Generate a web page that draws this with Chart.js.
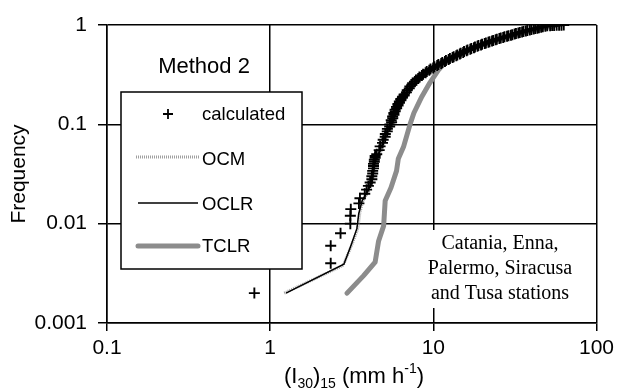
<!DOCTYPE html>
<html>
<head>
<meta charset="utf-8">
<title>Method 2 frequency</title>
<script src="https://cdn.jsdelivr.net/npm/chart.js@4.4.1/dist/chart.umd.min.js"></script>
<style>
    html, body { margin: 0; padding: 0; background: #ffffff; }
    #wrap { width: 619px; height: 390px; }
</style>
</head>
<body>
<div id="wrap"><canvas id="freqChart" width="619" height="390"></canvas></div>
<script>
// calculated values (x = (I30)15 in mm/h, y = frequency)
const calcX = [0.8, 2.35, 2.35, 2.7, 3.1, 3.1, 3.12, 3.5, 3.55, 3.8, 3.9, 4.0, 4.1, 4.2, 4.2, 4.25, 4.25, 4.3, 4.3, 4.3,
    4.35, 4.35, 4.4, 4.4,
    4.50, 4.66, 4.72, 4.88, 4.93, 5.07, 5.08, 5.22, 5.23, 5.40,
    5.42, 5.55, 5.52, 5.64, 5.63, 5.74, 5.73, 5.84, 5.83, 5.96,
    5.95, 6.08, 6.07, 6.20, 6.19, 6.33, 6.32, 6.46, 6.48, 6.62,
    6.63, 6.84, 6.92, 7.12, 7.18, 7.39, 7.47, 7.71, 7.82, 8.09,
    8.22, 8.51, 8.66, 8.97, 9.11, 9.45, 9.61, 9.98, 10.15, 10.56,
    10.74, 11.18, 11.35, 11.78, 11.95, 12.42, 12.64, 13.12, 13.33, 13.83,
    14.03, 14.54, 14.72, 15.24, 15.43, 16.0, 16.2, 16.85, 17.1, 17.75,
    18.0, 18.65, 18.9, 19.6, 19.9, 20.65, 21.0, 21.75, 22.1, 22.9,
    23.3, 24.1, 24.5, 25.4, 25.9, 26.8, 27.3, 28.3, 28.9, 29.9,
    30.5, 31.5, 32.1, 33.2, 33.9, 35.0, 35.7, 36.9, 37.7, 39.0,
    39.9, 41.2, 42.1, 43.4, 44.4, 45.8, 46.9, 48.6, 49.9, 52, 53.5, 55, 57, 59, 61, 63];
const calcY = [0.002, 0.004, 0.006, 0.008, 0.010, 0.012, 0.014, 0.016, 0.018, 0.020, 0.022, 0.024, 0.026, 0.028, 0.030, 0.032, 0.034, 0.036, 0.038, 0.040,
    0.042, 0.044, 0.046, 0.048,
    0.050, 0.055, 0.060, 0.065, 0.070, 0.075, 0.080, 0.085, 0.090, 0.095,
    0.100, 0.105, 0.110, 0.115, 0.120, 0.125, 0.130, 0.135, 0.140, 0.145,
    0.150, 0.155, 0.160, 0.165, 0.170, 0.175, 0.180, 0.185, 0.190, 0.195,
    0.20, 0.21, 0.22, 0.23, 0.24, 0.25, 0.26, 0.27, 0.28, 0.29,
    0.30, 0.31, 0.32, 0.33, 0.34, 0.35, 0.36, 0.37, 0.38, 0.39,
    0.40, 0.41, 0.42, 0.43, 0.44, 0.45, 0.46, 0.47, 0.48, 0.49,
    0.50, 0.51, 0.52, 0.53, 0.54, 0.55, 0.56, 0.57, 0.58, 0.59,
    0.60, 0.61, 0.62, 0.63, 0.64, 0.65, 0.66, 0.67, 0.68, 0.69,
    0.70, 0.71, 0.72, 0.73, 0.74, 0.75, 0.76, 0.77, 0.78, 0.79,
    0.80, 0.81, 0.82, 0.83, 0.84, 0.85, 0.86, 0.87, 0.88, 0.89,
    0.90, 0.91, 0.92, 0.93, 0.94, 0.95, 0.96, 0.97, 0.98, 0.984, 0.988, 0.990, 0.992, 0.994, 0.996, 0.998];

// OCM curve
const ocmX = [1.22, 2.8, 3.15, 3.45, 3.55, 3.7, 4.0, 4.25, 4.45, 4.7, 5.0, 5.35, 5.7, 6.2, 6.9, 7.9, 9.9, 12.2, 15.8, 20, 25, 32, 40, 48, 55, 62];
const ocmY = [0.002, 0.0038, 0.006, 0.009, 0.013, 0.017, 0.021, 0.027, 0.04, 0.05, 0.066, 0.09, 0.11, 0.16, 0.21, 0.27, 0.36, 0.44, 0.55, 0.64, 0.72, 0.81, 0.89, 0.95, 0.985, 0.998];

// OCLR curve
const oclrX = [1.25, 2.83, 3.1, 3.4, 3.49, 3.66, 3.95, 4.2, 4.35, 4.6, 4.9, 5.3, 5.6, 6.1, 6.8, 7.8, 9.8, 12, 15.6, 20, 25, 32, 40, 48, 55, 62];
const oclrY = [0.002, 0.0039, 0.0058, 0.0089, 0.0126, 0.017, 0.021, 0.026, 0.04, 0.05, 0.065, 0.09, 0.11, 0.16, 0.21, 0.27, 0.36, 0.44, 0.55, 0.64, 0.72, 0.81, 0.89, 0.95, 0.985, 0.998];

// TCLR curve
const tclrX = [2.96, 3.74, 4.4, 4.62, 4.96, 5.07, 5.5, 5.95, 6.1, 6.56, 7.2, 7.6, 8.5, 9.5, 10.7, 11.5, 14, 18, 24, 32, 42, 55];
const tclrY = [0.002, 0.003, 0.0041, 0.0067, 0.0095, 0.017, 0.023, 0.034, 0.045, 0.059, 0.1, 0.13, 0.19, 0.26, 0.35, 0.40, 0.5, 0.6, 0.7, 0.8, 0.9, 0.98];

// axis ticks
const xTickValues = [0.1, 1, 10, 100];
const xTickLabels = ["0.1", "1", "10", "100"];
const yTickValues = [0.001, 0.01, 0.1, 1];
const yTickLabels = ["0.001", "0.01", "0.1", "1"];

const legendLabels = ["calculated", "OCM", "OCLR", "TCLR"];
const stationLines = ["Catania, Enna,", "Palermo, Siracusa", "and Tusa stations"];

const sansFont = "Arial, 'Liberation Sans', Helvetica, sans-serif";
const serifFont = "'Times New Roman', 'Liberation Serif', serif";

// Function to pair x and y arrays into points
function toPoints(xs, ys) {
    return xs.map((x, i) => ({ x: x, y: ys[i] }));
}

// Function to draw the boxes, the legend and the x title
const overlayPlugin = {
    id: "overlay",
    afterDatasetsDraw(chart) {
        const ctx = chart.ctx;
        ctx.save();

        // Method 2 label
        ctx.fillStyle = "#000";
        ctx.font = "22px " + sansFont;
        ctx.textAlign = "center";
        ctx.textBaseline = "middle";
        ctx.fillText("Method 2", 204, 67);

        // legend box
        ctx.fillStyle = "#fff";
        ctx.fillRect(121, 92, 181, 177);
        ctx.strokeStyle = "#000";
        ctx.lineWidth = 1.5;
        ctx.strokeRect(121, 92, 181, 177);

        const rows = [114, 159, 204, 246];
        // calculated: plus marker
        ctx.beginPath();
        ctx.lineWidth = 1.8;
        ctx.moveTo(163, rows[0]); ctx.lineTo(173, rows[0]);
        ctx.moveTo(168, rows[0] - 5); ctx.lineTo(168, rows[0] + 5);
        ctx.stroke();
        // OCM: grey hatched line
        ctx.beginPath();
        ctx.strokeStyle = "#a0a0a0";
        ctx.lineWidth = 3;
        ctx.setLineDash([1, 1]);
        ctx.moveTo(136, rows[1] - 2); ctx.lineTo(199, rows[1] - 2);
        ctx.stroke();
        ctx.setLineDash([]);
        // OCLR: thin black line
        ctx.beginPath();
        ctx.strokeStyle = "#000";
        ctx.lineWidth = 1.5;
        ctx.moveTo(138, rows[2] - 1); ctx.lineTo(198, rows[2] - 1);
        ctx.stroke();
        // TCLR: thick grey line
        ctx.beginPath();
        ctx.strokeStyle = "#8c8c8c";
        ctx.lineWidth = 5;
        ctx.lineCap = "round";
        ctx.moveTo(138, rows[3]); ctx.lineTo(198, rows[3]);
        ctx.stroke();
        ctx.lineCap = "butt";

        ctx.fillStyle = "#000";
        ctx.font = "18.5px " + sansFont;
        ctx.textAlign = "left";
        legendLabels.forEach((label, i) => {
            ctx.fillText(label, 202, rows[i] + 1);
        });

        // stations box
        ctx.fillStyle = "#fff";
        ctx.fillRect(424, 230, 152, 78);
        ctx.fillStyle = "#000";
        ctx.font = "20px " + serifFont;
        ctx.textAlign = "center";
        stationLines.forEach((line, i) => {
            ctx.fillText(line, 500, 244 + i * 25);
        });

        // x axis title with sub/superscripts
        const parts = [
            { t: "(I", s: 22, dy: 0 },
            { t: "30", s: 14, dy: 5 },
            { t: ")", s: 22, dy: 0 },
            { t: "15", s: 14, dy: 5 },
            { t: " (mm h", s: 22, dy: 0 },
            { t: "-1", s: 14, dy: -10 },
            { t: ")", s: 22, dy: 0 }
        ];
        ctx.textAlign = "left";
        ctx.textBaseline = "alphabetic";
        let total = 0;
        parts.forEach((p) => {
            ctx.font = p.s + "px " + sansFont;
            total += ctx.measureText(p.t).width;
        });
        let tx = 354 - total / 2;
        parts.forEach((p) => {
            ctx.font = p.s + "px " + sansFont;
            ctx.fillText(p.t, tx, 383 + p.dy);
            tx += ctx.measureText(p.t).width;
        });

        ctx.restore();
    }
};

const ctx = document.getElementById("freqChart").getContext("2d");
new Chart(ctx, {
    type: "scatter",
    data: {
        datasets: [
            {
                label: legendLabels[0],
                data: toPoints(calcX, calcY),
                showLine: false,
                pointStyle: "cross",
                pointRadius: 5.5,
                borderColor: "#000",
                backgroundColor: "#000",
                pointBorderWidth: 1.9
            },
            {
                label: legendLabels[2],
                data: toPoints(oclrX, oclrY),
                showLine: true,
                pointRadius: 0,
                borderColor: "#000",
                borderWidth: 1.5
            },
            {
                label: legendLabels[1],
                data: toPoints(ocmX, ocmY),
                showLine: true,
                pointRadius: 0,
                borderColor: "#a0a0a0",
                borderWidth: 3,
                borderDash: [1, 1]
            },
            {
                label: legendLabels[3],
                data: toPoints(tclrX, tclrY),
                showLine: true,
                pointRadius: 0,
                borderColor: "#8c8c8c",
                borderWidth: 5,
                borderCapStyle: "round",
                borderJoinStyle: "round"
            }
        ]
    },
    options: {
        responsive: false,
        animation: false,
        layout: { padding: { left: 0, top: 25, right: 22, bottom: 0 } },
        plugins: {
            legend: { display: false },
            tooltip: { enabled: false }
        },
        scales: {
            x: {
                type: "logarithmic",
                min: 0.1,
                max: 100,
                afterBuildTicks: (scale) => { scale.ticks = xTickValues.map((v) => ({ value: v })); },
                afterFit: (scale) => { scale.height = 67; },
                ticks: {
                    autoSkip: false,
                    maxRotation: 0,
                    padding: 5,
                    color: "#000",
                    font: { family: sansFont, size: 21 },
                    callback: (value) => xTickLabels[xTickValues.indexOf(value)]
                },
                grid: { color: "#000", lineWidth: 1.5, tickLength: 8, tickColor: "#000" },
                border: { color: "#000", width: 1.5 }
            },
            y: {
                type: "logarithmic",
                min: 0.001,
                max: 1,
                afterBuildTicks: (scale) => { scale.ticks = yTickValues.map((v) => ({ value: v })); },
                afterFit: (scale) => { scale.width = 107; },
                ticks: {
                    autoSkip: false,
                    padding: 11,
                    color: "#000",
                    font: { family: sansFont, size: 21 },
                    callback: (value) => yTickLabels[yTickValues.indexOf(value)]
                },
                grid: { color: "#000", lineWidth: 1.5, tickLength: 9, tickColor: "#000" },
                border: { color: "#000", width: 1.5 },
                title: {
                    display: true,
                    text: "Frequency",
                    color: "#000",
                    font: { family: sansFont, size: 21 },
                    padding: { top: 7, bottom: 0 }
                }
            }
        }
    },
    plugins: [overlayPlugin]
});
</script>
</body>
</html>
